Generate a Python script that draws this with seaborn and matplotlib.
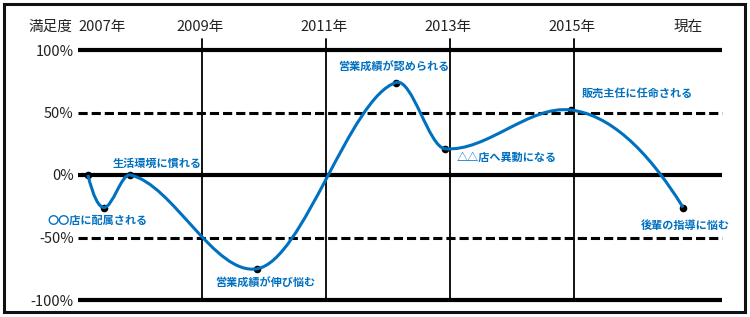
import matplotlib
matplotlib.use("Agg")
import matplotlib.pyplot as plt
import numpy as np
import pandas as pd
import seaborn as sns
from matplotlib.path import Path
from matplotlib.patches import PathPatch, Rectangle

# ---------------- data ----------------
event_x = [2007.16, 2007.42, 2007.84, 2009.89, 2012.13, 2012.92, 2014.95, 2016.76]
event_y = [0, -26, 0, -75, 74, 21, 52, -26]
event_labels = ["", "〇〇店に配属される", "生活環境に慣れる", "営業成績が伸び悩む",
                "営業成績が認められる", "△△店へ異動になる", "販売主任に任命される",
                "後輩の指導に悩む"]
year_ticks = [2007, 2009, 2011, 2013, 2015, 2017]
year_labels = ["2007年", "2009年", "2011年", "2013年", "2015年", "現在"]
y_ticks = [100, 50, 0, -50, -100]
y_tick_labels = ["100%", "50%", "0%", "-50%", "-100%"]
y_axis_title = "満足度"

# ---------------- layout ----------------
label_pos = [None, (2007.31, -36), (2008.27, 9.6), (2010.02, -87), (2012.10, 86.4),
             (2013.92, 14.4), (2016.02, 65.6), (2016.80, -40)]
BLUE = "#0070C0"

sns.set_theme(style="white")
plt.rcParams["font.family"] = ["Noto Sans CJK JP", "DejaVu Sans"]

W, H = 750, 317
fig = plt.figure(figsize=(W / 100, H / 100), dpi=100)
x0px, x1px, y0px, y1px = 78, 722, 50, 300
PX_PER_YEAR = 62.0
ax = fig.add_axes([x0px / W, 1 - y1px / H, (x1px - x0px) / W, (y1px - y0px) / H])
xmin = 2007.0
xmax = 2007 + (x1px - x0px) / PX_PER_YEAR
ax.set_xlim(xmin, xmax)
ax.set_ylim(-100, 100)
for s in ax.spines.values():
    s.set_visible(False)
ax.set_xticks([])
ax.set_yticks(y_ticks)
ax.set_yticklabels(y_tick_labels, fontsize=10.5, color="#222222")
ax.tick_params(axis="y", length=0, pad=3)

# horizontal reference lines
for yv in y_ticks:
    if yv in (100, 0, -100):
        ax.plot([xmin, xmax], [yv, yv], color="black", lw=3.0, solid_capstyle="butt",
                clip_on=False, zorder=2)
    else:
        ax.plot([xmin, xmax], [yv, yv], color="black", lw=2.2, dashes=(3, 1.3),
                clip_on=False, zorder=2)

# vertical year lines
for yr in year_ticks[1:-1]:
    ax.plot([yr, yr], [-100, 109], color="black", lw=1.3, clip_on=False, zorder=2)

# year labels on top
for yr, lab in zip(year_ticks, year_labels):
    if lab == year_labels[0]:
        ax.text(yr, 118.5, lab, ha="left", va="center", fontsize=10.5, color="#222222",
                clip_on=False)
    elif lab == year_labels[-1]:
        ax.text(yr - 0.16, 118.5, lab, ha="center", va="center", fontsize=10.5,
                color="#222222", clip_on=False)
    else:
        ax.text(yr - 0.03, 118.5, lab, ha="center", va="center", fontsize=10.5,
                color="#222222", clip_on=False)
ax.text(2007 - 6 / PX_PER_YEAR, 118.5, y_axis_title, ha="right", va="center",
        fontsize=10.5, color="#222222", clip_on=False)

# smooth curve through the data points (cubic Hermite rendered as bezier segments)
xs = np.asarray(event_x, float)
ys = np.asarray(event_y, float)
n = len(xs)
ALPHA = 0.5
m = np.zeros(n)
for i in range(1, n - 1):
    m[i] = ALPHA * (ys[i + 1] - ys[i - 1]) / (xs[i + 1] - xs[i - 1])
m[0] = 2 * (ys[1] - ys[0]) / (xs[1] - xs[0]) - m[1]
m[-1] = 2 * (ys[-1] - ys[-2]) / (xs[-1] - xs[-2]) - m[-2]
verts = [(xs[0], ys[0])]
codes = [Path.MOVETO]
for i in range(n - 1):
    h = xs[i + 1] - xs[i]
    verts += [(xs[i] + h / 3, ys[i] + m[i] * h / 3),
              (xs[i + 1] - h / 3, ys[i + 1] - m[i + 1] * h / 3),
              (xs[i + 1], ys[i + 1])]
    codes += [Path.CURVE4] * 3
ax.add_patch(PathPatch(Path(verts, codes), facecolor="none", edgecolor=BLUE, lw=2.2,
                       zorder=4, clip_on=False))

df = pd.DataFrame({"x": event_x, "y": event_y})
sns.scatterplot(data=df, x="x", y="y", ax=ax, color="black", s=30, edgecolor="black",
                linewidth=0, zorder=3, clip_on=False)
ax.set_xlabel("")
ax.set_ylabel("")

for lab, pos in zip(event_labels, label_pos):
    if pos is None:
        continue
    ax.text(pos[0], pos[1], lab, ha="center", va="center", fontsize=8, color=BLUE,
            fontweight="bold", clip_on=False, zorder=5)

# outer frame
fig.patches.append(Rectangle((4 / W, 5 / H), 741 / W, 308 / H, transform=fig.transFigure,
                             fill=False, edgecolor="#111111", lw=2.2))

fig.savefig("out.png", dpi=100)
